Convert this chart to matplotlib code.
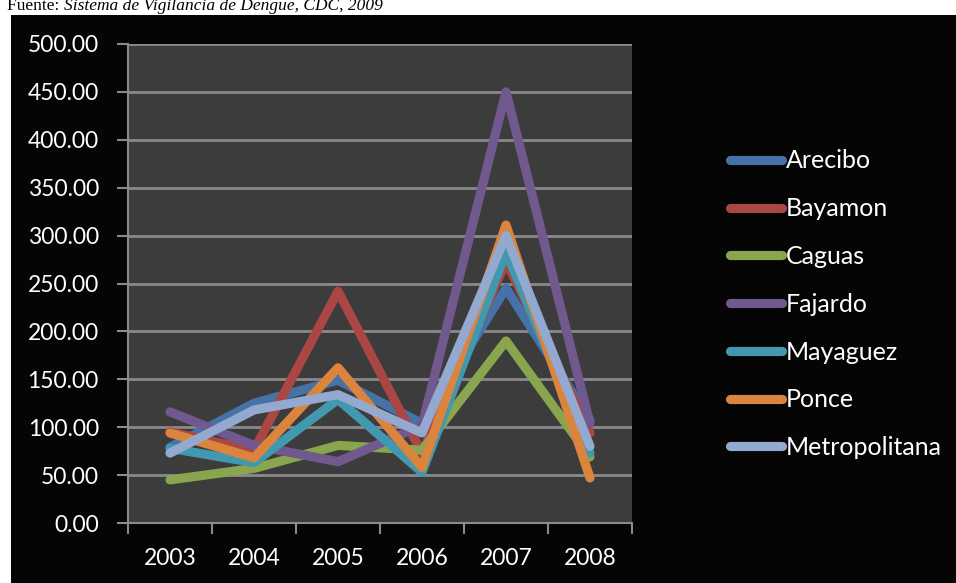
import matplotlib
matplotlib.use("Agg")
import matplotlib.pyplot as plt
import numpy as np

years = ["2003", "2004", "2005", "2006", "2007", "2008"]
series_names = ["Arecibo", "Bayamon", "Caguas", "Fajardo", "Mayaguez", "Ponce", "Metropolitana"]
arecibo = [79, 125, 149, 104, 245, 107]
bayamon = [95, 76, 242, 73, 273, 94]
caguas = [45, 57, 81, 76, 190, 69]
fajardo = [116, 81, 64, 102, 450, 104]
mayaguez = [78, 63, 129, 53, 283, 73]
ponce = [94, 68, 162, 58, 311, 47]
metropolitana = [73, 118, 134, 94, 300, 80]
values = [arecibo, bayamon, caguas, fajardo, mayaguez, ponce, metropolitana]
colors = ["#4572A7", "#AA4643", "#89A54E", "#71588F", "#4198AF", "#DB843D", "#93A9CF"]
y_ticks = [0, 50, 100, 150, 200, 250, 300, 350, 400, 450, 500]

W, H = 956, 583
fig = plt.figure(figsize=(W / 100, H / 100), dpi=100, facecolor="white")

# black chart frame
bg = fig.add_axes([11 / W, 0, 1 - 11 / W, (H - 15) / H], zorder=-5)
bg.set_facecolor("#050505")
bg.set_xticks([])
bg.set_yticks([])
for s in bg.spines.values():
    s.set_visible(False)

ax = fig.add_axes([128 / W, (H - 523) / H, (632 - 128) / W, (523 - 44) / H], zorder=1)
ax.set_facecolor("#3C3C3C")
x = np.arange(len(years))
for name, vals, c in zip(series_names, values, colors):
    ax.plot(x, vals, color=c, lw=6.6, solid_capstyle="round",
            solid_joinstyle="round", label=name, zorder=3)

ax.set_xlim(-0.5, len(years) - 0.5)
ax.set_ylim(0, 500)
ax.set_yticks(y_ticks)
ax.set_yticklabels([f"{v:.2f}" for v in y_ticks])
ax.set_xticks(np.arange(len(years) + 1) - 0.5)
ax.set_xticklabels([])
ax.set_xticks(x, minor=True)
ax.set_xticklabels(years, minor=True)
ax.tick_params(axis="x", which="minor", length=0, pad=18)
ax.tick_params(axis="x", which="major", length=8, width=1.5, color="#8a8a8a")
ax.tick_params(axis="y", length=8, width=1.5, color="#8a8a8a", pad=13)
font = "Lato"
for lab in ax.get_yticklabels() + ax.get_xticklabels(minor=True):
    lab.set_fontfamily(font)
    lab.set_fontsize(16.5)
    lab.set_color("white")
ax.grid(axis="y", color="#8a8a8a", lw=2, zorder=1)
ax.set_axisbelow(True)
for s in ["top", "right"]:
    ax.spines[s].set_visible(False)
for s in ["left", "bottom"]:
    ax.spines[s].set_color("#8a8a8a")
    ax.spines[s].set_linewidth(1.5)

leg = fig.legend(loc="upper left", bbox_to_anchor=(707 / W, (H - 127) / H),
                 frameon=False, handlelength=2.1, handletextpad=0.15,
                 labelspacing=0.99, prop={"family": font, "size": 18})
leg.set_zorder(5)
for t in leg.get_texts():
    t.set_color("white")
for h in leg.get_lines():
    h.set_linewidth(6.6)
    h.set_solid_capstyle("round")

# source note (partially clipped at the top, as in the original)
r = fig.canvas.get_renderer()
t1 = fig.text(7 / W, (H - 10) / H, "Fuente: ", family="Liberation Serif",
              fontsize=12.5, va="baseline", ha="left", color="black")
bb = t1.get_window_extent(renderer=r)
fig.text(bb.x1 / W, (H - 10) / H, "Sistema de Vigilancia de Dengue, CDC, 2009",
         family="Liberation Serif", style="italic", fontsize=12.5,
         va="baseline", ha="left", color="black")

fig.savefig("out.png", dpi=100, facecolor="white")
